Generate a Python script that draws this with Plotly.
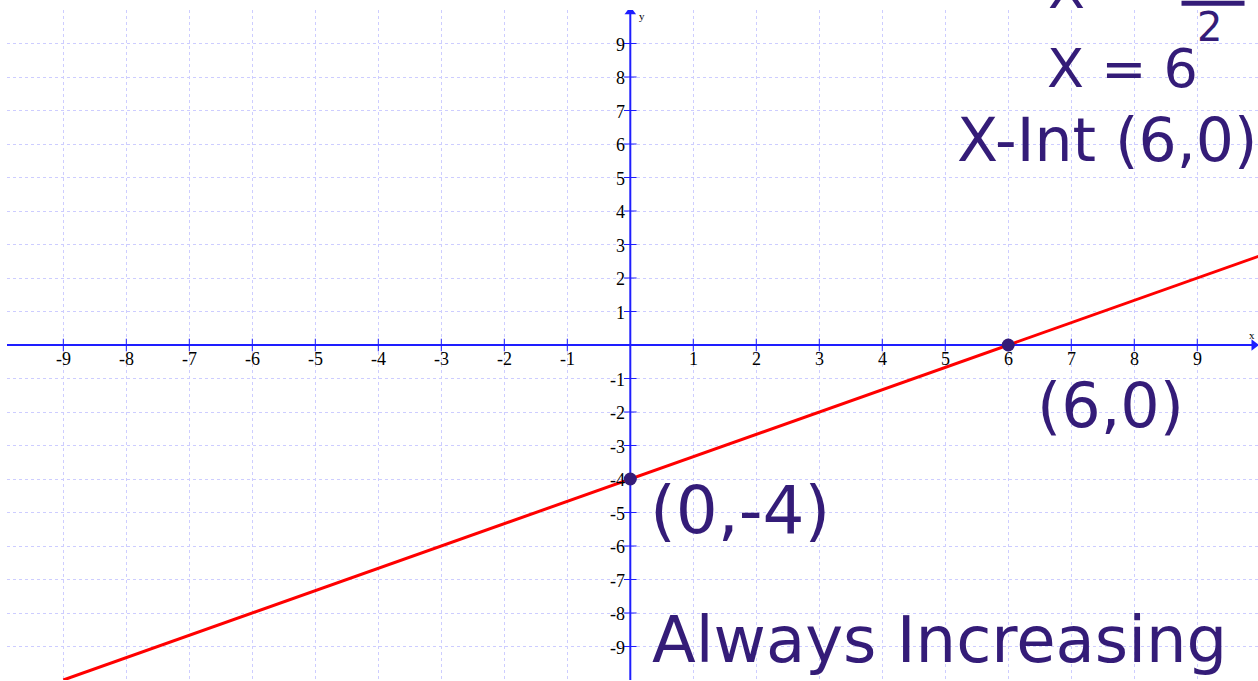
import plotly.graph_objects as go

# Line y = (2/3)x - 4, drawn across the grid
line_x = [-9, 10]
line_y = [-10, 2.6667]

# Intercepts marked on the line
pt_x = [0, 6]
pt_y = [-4, 0]

# Tick values for both axes
x_ticks = [-9, -8, -7, -6, -5, -4, -3, -2, -1, 1, 2, 3, 4, 5, 6, 7, 8, 9]
y_ticks = [9, 8, 7, 6, 5, 4, 3, 2, 1, -1, -2, -3, -4, -5, -6, -7, -8, -9]

# Handwritten notes: (text, x, y, size)
notes = [
    ("X = 6", 6.58, 8.26, 54),
    ("X-Int (6,0)", 5.15, 6.11, 60),
    ("(6,0)", 6.42, -1.8, 62),
    ("(0,-4)", 0.28, -4.93, 66),
    ("Always Increasing", 0.31, -8.81, 64),
    ("2", 9.2, 9.48, 40),
]

AXIS_BLUE = "rgb(30,30,255)"
INK = "rgb(52,28,120)"
GRID = "rgb(205,205,255)"
SERIF = "Liberation Serif"

fig = go.Figure()

# Axis lines through the origin
fig.add_trace(go.Scatter(x=[-9.894, 9.93], y=[0, 0], mode="lines",
                         line=dict(color=AXIS_BLUE, width=2), hoverinfo="skip"))
fig.add_trace(go.Scatter(x=[0, 0], y=[-10.1, 9.9], mode="lines",
                         line=dict(color=AXIS_BLUE, width=2), hoverinfo="skip"))
# Arrow heads
fig.add_trace(go.Scatter(x=[9.9], y=[0], mode="markers",
                         marker=dict(symbol="triangle-right", size=10, color=AXIS_BLUE)))
fig.add_trace(go.Scatter(x=[0], y=[9.95], mode="markers",
                         marker=dict(symbol="triangle-up", size=10, color=AXIS_BLUE)))

# Tick marks
fig.add_trace(go.Scatter(x=x_ticks, y=[0] * len(x_ticks), mode="markers",
                         marker=dict(symbol="line-ns-open", size=9, color=AXIS_BLUE,
                                     line=dict(color=AXIS_BLUE, width=1))))
fig.add_trace(go.Scatter(x=[0] * len(y_ticks), y=y_ticks, mode="markers",
                         marker=dict(symbol="line-ew-open", size=9, color=AXIS_BLUE,
                                     line=dict(color=AXIS_BLUE, width=1))))

# The red line
fig.add_trace(go.Scatter(x=line_x, y=line_y, mode="lines",
                         line=dict(color="rgb(255,0,0)", width=3)))

# Intercept dots
fig.add_trace(go.Scatter(x=pt_x, y=pt_y, mode="markers",
                         marker=dict(size=13, color=INK)))

annotations = []
for v in x_ticks:
    annotations.append(dict(x=v, y=0, xref="x", yref="y", text=str(v),
                            showarrow=False, yshift=-14,
                            font=dict(family=SERIF, size=18, color="black")))
for v in y_ticks:
    annotations.append(dict(x=0, y=v, xref="x", yref="y", text=str(v),
                            showarrow=False, xanchor="right", xshift=-3, yshift=-1,
                            font=dict(family=SERIF, size=18, color="black")))
annotations.append(dict(x=0, y=10, xref="x", yref="y", text="y", showarrow=False,
                        xanchor="left", xshift=7, yshift=-6,
                        font=dict(family=SERIF, size=11, color="black")))
annotations.append(dict(x=9.9, y=0, xref="x", yref="y", text="x", showarrow=False,
                        xshift=-2, yshift=10,
                        font=dict(family=SERIF, size=11, color="black")))

for text, x, y, size in notes:
    annotations.append(dict(x=x, y=y, xref="x", yref="y", text=text,
                            showarrow=False, xanchor="left" if text != "2" else "center",
                            font=dict(family="DejaVu Sans", size=size, color=INK)))
# Note running off the top edge
annotations.append(dict(x=6.6, y=1.03, xref="x", yref="paper", text="X =",
                        showarrow=False, xanchor="left", yanchor="middle",
                        font=dict(family="DejaVu Sans", size=54, color=INK)))

fig.update_layout(
    width=1258, height=681,
    margin=dict(l=7, r=0, t=10, b=1),
    paper_bgcolor="white", plot_bgcolor="white",
    showlegend=False,
    annotations=annotations,
    shapes=[dict(type="line", xref="x", yref="paper", x0=8.75, x1=9.75,
                 y0=1.01, y1=1.01, line=dict(color=INK, width=5))],
    xaxis=dict(range=[-9.894, 9.964], tickmode="array",
               tickvals=list(range(-9, 10)), showticklabels=False,
               showgrid=True, gridcolor=GRID, griddash="dot", gridwidth=1,
               zeroline=False, showline=False, fixedrange=True),
    yaxis=dict(range=[-10, 10], tickmode="array",
               tickvals=list(range(-9, 11)), showticklabels=False,
               showgrid=True, gridcolor=GRID, griddash="dot", gridwidth=1,
               zeroline=False, showline=False, fixedrange=True),
)

fig.write_html("out.html")
